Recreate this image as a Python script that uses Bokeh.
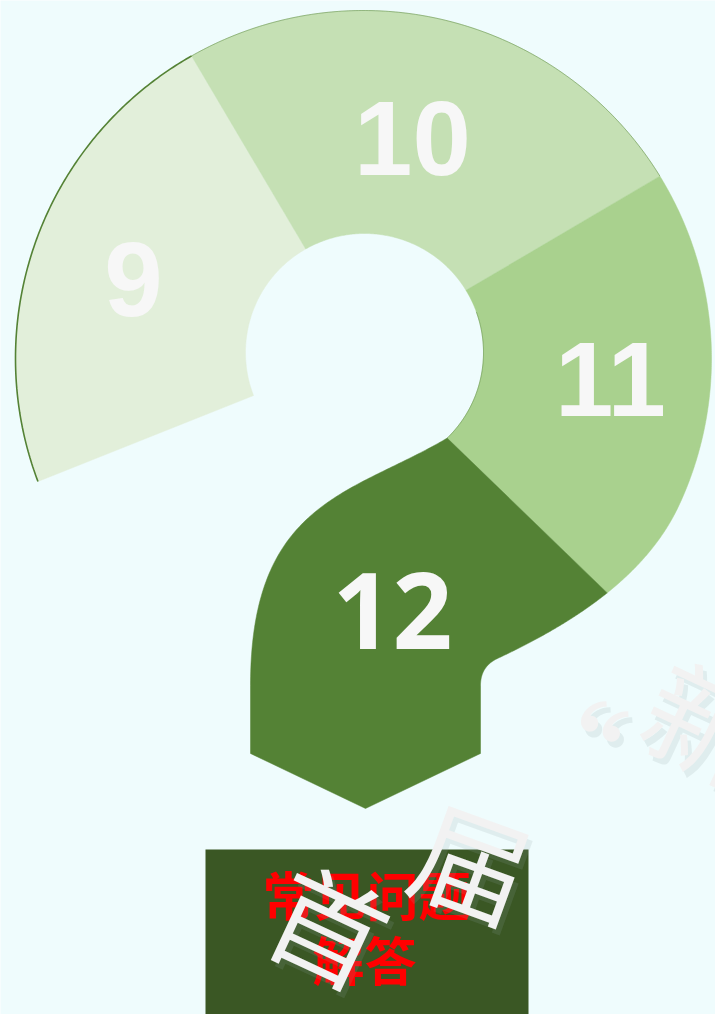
import numpy as np
from bokeh.plotting import figure
from bokeh.models import Range1d
from bokeh.core.properties import value
from bokeh.embed import file_html
from bokeh.resources import INLINE

# ---- data ----
segment_labels = ["9", "10", "11", "12"]
segment_colors = ["#e2efda", "#c5e0b4", "#a9d18e", "#548235"]
label_fonts = ["Liberation Sans", "Liberation Sans", "Liberation Sans", "Open Sans"]
title_lines = ["常见问题", "解答"]
watermark_chars = ["首", "届", "“", "新"]

BG = "#effcfd"
BOX = "#3a5724"

W, H = 715, 1014
p = figure(width=W, height=H, x_range=Range1d(0, 715), y_range=Range1d(1014, 0),
           output_backend="svg", toolbar_location=None, min_border=0)
p.axis.visible = False
p.grid.visible = False
p.outline_line_color = None
p.background_fill_color = BG
p.border_fill_color = BG

# ---- geometry (pixel space, y downward) ----
C = (363.0, 358.0); R = 348.0
HC = (364.0, 352.0); r = 119.0


def arc(c, rad, a0, a1, n=160):
    t = np.radians(np.linspace(a0, a1, n))
    return list(c[0] + rad * np.cos(t)), list(c[1] + rad * np.sin(t))


def cubic(p0, p1, p2, p3, t0=0.0, t1=1.0, n=120):
    t = np.linspace(t0, t1, n)
    mt = 1 - t
    x = mt**3 * p0[0] + 3 * mt**2 * t * p1[0] + 3 * mt * t**2 * p2[0] + t**3 * p3[0]
    y = mt**3 * p0[1] + 3 * mt**2 * t * p1[1] + 3 * mt * t**2 * p2[1] + t**3 * p3[1]
    return list(x), list(y)


def quad(p0, p1, p2, n=40):
    t = np.linspace(0, 1, n)
    mt = 1 - t
    x = mt**2 * p0[0] + 2 * mt * t * p1[0] + t**2 * p2[0]
    y = mt**2 * p0[1] + 2 * mt * t * p1[1] + t**2 * p2[1]
    return list(x), list(y)


a9, a10, a11, aj = 159.3, 240.4, 328.4, 25.0
P0 = (C[0] + R * np.cos(np.radians(aj)), C[1] + R * np.sin(np.radians(aj)))
d0 = (-np.sin(np.radians(aj)), np.cos(np.radians(aj)))
P3 = (497.0, 658.0)
d3 = (-0.905, 0.425)
P1 = (P0[0] + 80 * d0[0], P0[1] + 80 * d0[1])
P2 = (P3[0] - 80 * d3[0], P3[1] - 80 * d3[1])
tt = np.linspace(0, 1, 400)
bx, by = cubic(P0, P1, P2, P3, n=400)
ts = tt[int(np.argmin((np.array(bx) - 605) ** 2 + (np.array(by) - 590) ** 2))]

ja = 46.0
J = (HC[0] + r * np.cos(np.radians(ja)), HC[1] + r * np.sin(np.radians(ja)))

xs, ys = [], []
ox, oy = arc(C, R, a9, a10); ix, iy = arc(HC, r, a10, 158.8)
xs.append(ox + ix); ys.append(oy + iy)
ox, oy = arc(C, R, a10, a11); ix, iy = arc(HC, r, a11, a10)
xs.append(ox + ix); ys.append(oy + iy)
ox, oy = arc(C, R, a11, 360 + aj); cx, cy = cubic(P0, P1, P2, P3, 0, ts)
ix, iy = arc(HC, r, ja, -31.5)
xs.append(ox + cx + ix); ys.append(oy + cy + iy)
cx, cy = cubic(P0, P1, P2, P3, ts, 1)
qx, qy = quad(P3, (480.0, 666.0), (480.0, 685.0))
lx, ly = cubic((250.0, 685.0), (250.0, 500.0), (351.5, 494.0), J)
x12 = [J[0]] + cx + qx + [480.0, 365.0, 250.0] + lx
y12 = [J[1]] + cy + qy + [753.0, 808.0, 753.0] + ly
xs.append(x12); ys.append(y12)

p.patches(xs, ys, fill_color=segment_colors, line_color=segment_colors, line_width=0.5)

ox, oy = arc(C, R, a9, a10)
p.line(ox, oy, line_color="#548235", line_width=1.6)
ox, oy = arc(C, R, a10, a11)
p.line(ox, oy, line_color="#548235", line_width=0.7, line_alpha=0.7)
ix, iy = arc(HC, r, -20, ja)
p.line(ix, iy, line_color="#548235", line_width=0.7, line_alpha=0.7)

# labels
lab_x = [133, 412, 610, 392]
lab_y = [279, 138, 379, 610]
for i, lab in enumerate(segment_labels):
    p.text([lab_x[i]], [lab_y[i]], text=[lab], text_font=value(label_fonts[i]),
           text_font_style="bold", text_font_size="105px", text_color="#f7f7f7",
           text_align="center", text_baseline="middle")

# bottom box
p.quad(left=[205], right=[528], top=[849], bottom=[1014], fill_color=BOX, line_color=None)
p.text([366, 364], [893, 958], text=title_lines, text_font=value("Noto Sans CJK SC"),
       text_font_style="bold", text_font_size="52px", text_color="#ff0000",
       text_align="center", text_baseline="middle")

# watermark
wx = [330, 473, 556, 705]
wy = [922, 858, 734, 718]
wa = [-25, -20, -25, -25]
ws = [115, 115, 125, 115]
for i, ch in enumerate(watermark_chars):
    p.text([wx[i] + 4], [wy[i] + 6], text=[ch], text_font=value("Noto Sans CJK SC"),
           text_font_size=f"{ws[i]}px", text_color="#90a0a2", text_alpha=0.16,
           text_align="center", text_baseline="middle", angle=np.radians(wa[i]))
    p.text([wx[i]], [wy[i]], text=[ch], text_font=value("Noto Sans CJK SC"),
           text_font_size=f"{ws[i]}px", text_color="#f2f2f2",
           text_align="center", text_baseline="middle", angle=np.radians(wa[i]))

open("out.html", "w").write(file_html(p, INLINE))
